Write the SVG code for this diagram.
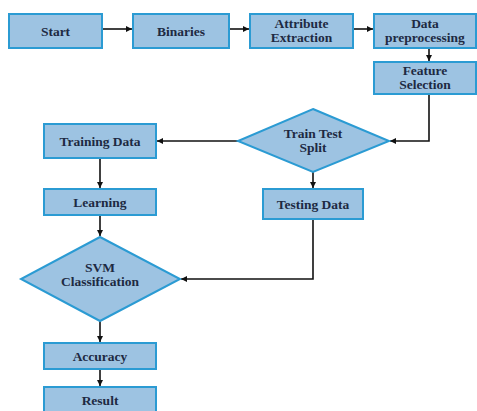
<svg xmlns="http://www.w3.org/2000/svg" width="477" height="411" viewBox="0 0 477 411">
<style>
.box{fill:#9dc3e2;stroke:#2b9bd3;stroke-width:2}
.t{font-family:"Liberation Serif","DejaVu Serif",serif;font-weight:bold;font-size:13.5px;fill:#1e2a42;text-anchor:middle}
.c{fill:none;stroke:#111;stroke-width:1.6}
</style>
<defs>
<marker id="a" viewBox="0 0 10 10" refX="10" refY="5" markerWidth="6" markerHeight="6" orient="auto" markerUnits="userSpaceOnUse">
<path d="M0,0L10,5L0,10z" fill="#111"/>
</marker>
</defs>
<rect width="477" height="411" fill="#fff"/>
<g id="connectors">
<path class="c" d="M102,29H132" marker-end="url(#a)"/>
<path class="c" d="M229,29H249" marker-end="url(#a)"/>
<path class="c" d="M353,29H373" marker-end="url(#a)"/>
<path class="c" d="M429,48V61" marker-end="url(#a)"/>
<path class="c" d="M429,94V141H390" marker-end="url(#a)"/>
<path class="c" d="M238,141H157" marker-end="url(#a)"/>
<path class="c" d="M313,172V188" marker-end="url(#a)"/>
<path class="c" d="M100,158V188" marker-end="url(#a)"/>
<path class="c" d="M100,215V236" marker-end="url(#a)"/>
<path class="c" d="M313,219V279H181" marker-end="url(#a)"/>
<path class="c" d="M100,321V342" marker-end="url(#a)"/>
<path class="c" d="M100,369V386" marker-end="url(#a)"/>
</g>
<g id="start"><rect class="box" x="9" y="14" width="93" height="34"/><text class="t" x="55.5" y="35.5">Start</text></g>
<g id="binaries"><rect class="box" x="133" y="14" width="96" height="34"/><text class="t" x="181" y="35.5">Binaries</text></g>
<g id="attribute"><rect class="box" x="250" y="14" width="103" height="34"/><text class="t" x="301.5" y="28">Attribute</text><text class="t" x="301.5" y="42">Extraction</text></g>
<g id="preprocessing"><rect class="box" x="374" y="14" width="102" height="34"/><text class="t" x="425" y="28">Data</text><text class="t" x="425" y="42">preprocessing</text></g>
<g id="feature"><rect class="box" x="374" y="62" width="102" height="32"/><text class="t" x="425" y="75">Feature</text><text class="t" x="425" y="89">Selection</text></g>
<g id="split"><polygon class="box" points="313,109 389,141 313,172 238,141"/><text class="t" x="313" y="138">Train Test</text><text class="t" x="313" y="152">Split</text></g>
<g id="training"><rect class="box" x="44" y="124" width="112" height="34"/><text class="t" x="100" y="145.5">Training Data</text></g>
<g id="testing"><rect class="box" x="263" y="189" width="100" height="30"/><text class="t" x="313" y="208.5">Testing Data</text></g>
<g id="learning"><rect class="box" x="44" y="189" width="112" height="26"/><text class="t" x="100" y="206.5">Learning</text></g>
<g id="svm"><polygon class="box" points="100,237 180,279 100,321 21,279"/><text class="t" x="100" y="272">SVM</text><text class="t" x="100" y="286">Classification</text></g>
<g id="accuracy"><rect class="box" x="44" y="343" width="112" height="26"/><text class="t" x="100" y="360.5">Accuracy</text></g>
<g id="result"><rect class="box" x="44" y="387" width="112" height="30"/><text class="t" x="100" y="404.5">Result</text></g>
</svg>
